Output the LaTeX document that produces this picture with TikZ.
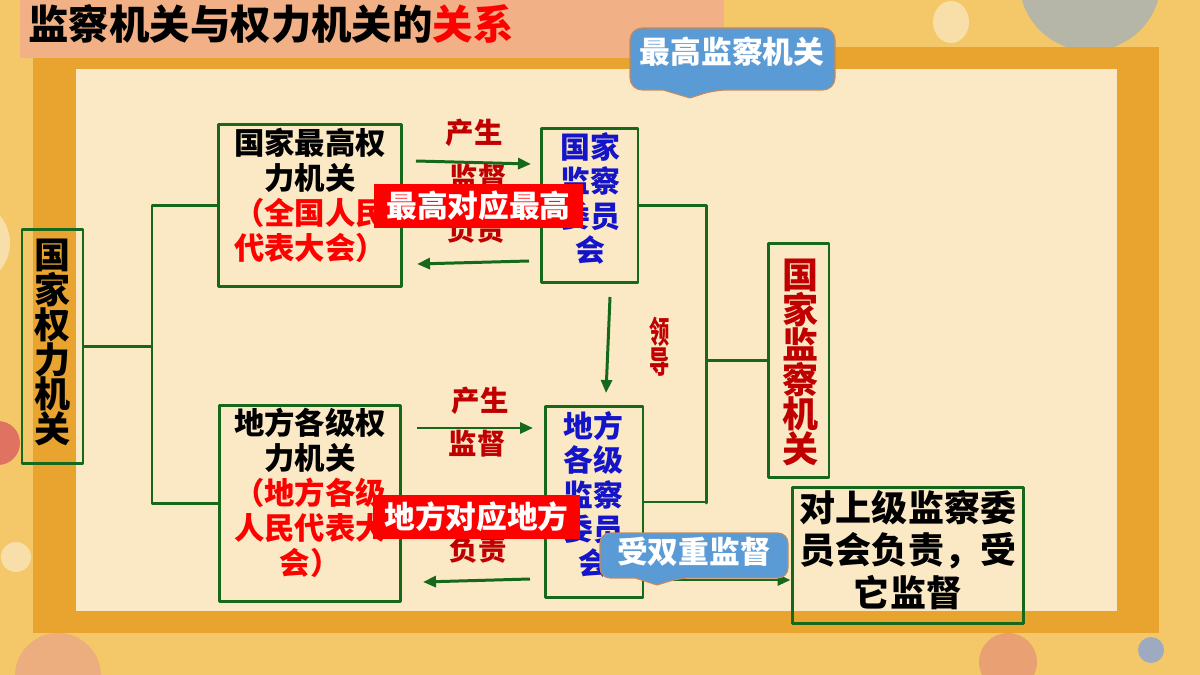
\documentclass[tikz,border=0pt]{standalone}
\usepackage{fontspec}
\setmainfont{Noto Sans CJK SC}
\usepackage{graphicx}
\usepackage{tikz}
\usetikzlibrary{arrows.meta,calc}
\definecolor{bgyellow}{HTML}{F4C868}
\definecolor{bandpeach}{HTML}{F2B087}
\definecolor{frameorange}{HTML}{E9A32F}
\definecolor{paper}{HTML}{FBE9C6}
\definecolor{paleround}{HTML}{F8DFAA}
\definecolor{coral}{HTML}{E07262}
\definecolor{salmon}{HTML}{ECAE7E}
\definecolor{salmontwo}{HTML}{E9A072}
\definecolor{slate}{HTML}{9DAABF}
\definecolor{stone}{HTML}{B6B6A8}
\definecolor{boxgreen}{HTML}{16691A}
\definecolor{darkred}{HTML}{C00000}
\definecolor{brightred}{HTML}{FF0000}
\definecolor{inkblue}{HTML}{1414C8}
\definecolor{callblue}{HTML}{5B9BD5}
\definecolor{callrim}{HTML}{C98A5A}

\begin{document}
\begin{tikzpicture}[x=0.02cm,y=-0.02cm,line join=round,
  box/.style={draw=boxgreen,line width=1.7pt,inner sep=0pt},
  btext/.style={align=center,inner sep=0pt,font=\bfseries\fontsize{17.3}{19.9}\selectfont},
  vtext/.style={align=center,inner sep=0pt,font=\bfseries\fontsize{20.5}{19.9}\selectfont},
  link/.style={boxgreen,line width=1.7pt},
  garrow/.style={boxgreen,line width=1.7pt,-{Triangle[length=0.26cm,width=0.22cm]}},
  lbl/.style={text=darkred,inner sep=0pt,font=\bfseries\fontsize{16.2}{16.2}\selectfont},
  banner/.style={fill=brightred,text=white,inner sep=0pt,minimum height=0.88cm,
    font=\bfseries\fontsize{17.5}{17.5}\selectfont},
  callout/.style={fill=callblue,draw=callrim,line width=0.6pt},
  ctext/.style={text=white,inner sep=0pt,font=\bfseries\fontsize{17.5}{17.5}\selectfont}]
\path[use as bounding box] (0,0) rectangle (1200,675);
\fill[bgyellow] (0,0) rectangle (1200,675);
% 装饰圆点
\fill[paleround] (-32,243) circle [radius=42];
\fill[coral] (-2,443) circle [radius=22];
\fill[paleround] (16,557) circle [radius=15];
\fill[salmon] (58,676) circle [radius=43];
\fill[salmontwo] (1008,662) circle [radius=29];
\fill[slate] (1151,650) circle [radius=13];
\fill[paleround] (951,22) ellipse [x radius=18,y radius=21];
\fill[stone] (1090,-20) circle [radius=71];
% 外框、底纸、标题条
\fill[frameorange] (33,47) rectangle (1159,633);
\fill[paper] (76,69) rectangle (1117,611);
\fill[bandpeach] (20,0) rectangle (724,58);
\node[inner sep=0pt,font=\bfseries\fontsize{23}{23}\selectfont] (biaoti) at (271,24)
  {监察机关与权力机关的\textcolor{brightred}{关系}};
% 方框
\node[box,minimum width=1.22cm,minimum height=4.7cm] (gjql) at (52.5,346.5) {};
\node[vtext] (gjql-t) at (52.5,342.5) {国\\家\\权\\力\\机\\关};
\node[box,minimum width=3.68cm,minimum height=3.26cm] (zgql) at (310,205.5) {};
\node[btext] (zgql-t) at (310,195.5)
  {国家最高权\\力机关\\\textcolor{brightred}{（全国人民}\\\textcolor{brightred}{代表大会）}};
\node[box,minimum width=3.64cm,minimum height=3.94cm] (dfql) at (310,503.5) {};
\node[btext] (dfql-t) at (310,493)
  {地方各级权\\力机关\\\textcolor{brightred}{（地方各级}\\\textcolor{brightred}{人民代表大}\\\textcolor{brightred}{会）}};
\node[box,minimum width=1.94cm,minimum height=3.1cm] (gjjw) at (589.5,205.5) {};
\node[btext,text=inkblue,font=\bfseries\fontsize{17}{19.5}\selectfont] (gjjw-t) at (590,198.5)
  {国家\\监察\\委员\\会};
\node[box,minimum width=1.96cm,minimum height=3.84cm] (dfjw) at (594,502) {};
\node[btext,text=inkblue,font=\bfseries\fontsize{17}{19.5}\selectfont] (dfjw-t) at (593,494.5)
  {地方\\各级\\监察\\委员\\会};
\node[box,minimum width=1.22cm,minimum height=4.7cm] (gjjg) at (798.5,360.5) {};
\node[vtext,text=darkred] (gjjg-t) at (800,362.5) {国\\家\\监\\察\\机\\关};
\node[box,minimum width=4.64cm,minimum height=2.74cm] (sjjw) at (908,555.5) {};
\node[btext,font=\bfseries\fontsize{20.5}{24}\selectfont] (sjjw-t) at (908,550)
  {对上级监察委\\员会负责，受\\它监督};
% 连线
\coordinate (lxia) at (152,503);
\coordinate (rxia) at (706,503);
\draw[link] (zgql.west) -| (lxia) |- (dfql.west);
\draw[link] (gjql.east) -- (gjql.east -| lxia);
\draw[link] (gjjw.east) -| (rxia) |- (dfjw.east);
\draw[link] (gjjg.west) -- (gjjg.west -| rxia);
% 箭头
\coordinate (cs1) at (416,161);   \coordinate (cs1e) at (531,164);
\coordinate (fz1) at (529,261);   \coordinate (fz1e) at (417,264);
\coordinate (cs2) at (417,428);   \coordinate (cs2e) at (533,428);
\coordinate (fz2) at (530,579);   \coordinate (fz2e) at (423,582);
\coordinate (ld) at (610,297);    \coordinate (lde) at (606,393);
\draw[garrow] (cs1) -- (cs1e);
\draw[garrow] (fz1) -- (fz1e);
\draw[garrow] (cs2) -- (cs2e);
\draw[garrow] (fz2) -- (fz2e);
\draw[garrow] (ld) -- (lde);
\draw[garrow] (dfjw.east |- 0,580) -- (sjjw.west |- 0,580);
% 箭头上的字
\node[lbl] (cs1-l) at (474,133) {产生};
\node[lbl] (jd1-l) at (478,178) {监督};
\node[lbl] (fz1-l) at (476,230) {负责};
\node[lbl] (cs2-l) at (480,401) {产生};
\node[lbl] (jd2-l) at (477,444) {监督};
\node[lbl] (fz2-l) at (478,550) {负责};
\node[lbl,align=center,font=\bfseries\fontsize{17.5}{17}\selectfont] (ld-l) at (660,347)
  {\scalebox{.66}[1]{领}\\\scalebox{.66}[1]{导}};
% 红色横幅
\node[banner,minimum width=4.18cm] (zgdy) at (478.5,206) {最高对应最高};
\node[banner,minimum width=4.14cm] (dfdy) at (476.5,517) {地方对应地方};
% 蓝色标注
\draw[callout,rounded corners=0.24cm] (630,59) |- (835,28) |- (715,90)
  [sharp corners] -- (690,98) -- (663,90) [rounded corners=0.24cm] -| (630,59) -- cycle;
\node[ctext] (zgjc) at (732,52) {最高监察机关};
\draw[callout,rounded corners=0.2cm] (600,555) |- (788,533) |- (680,578)
  [sharp corners] -- (657,585) -- (635,578) [rounded corners=0.2cm] -| (600,555) -- cycle;
\node[ctext] (scjd) at (694,552) {受双重监督};
\end{tikzpicture}
\end{document}
